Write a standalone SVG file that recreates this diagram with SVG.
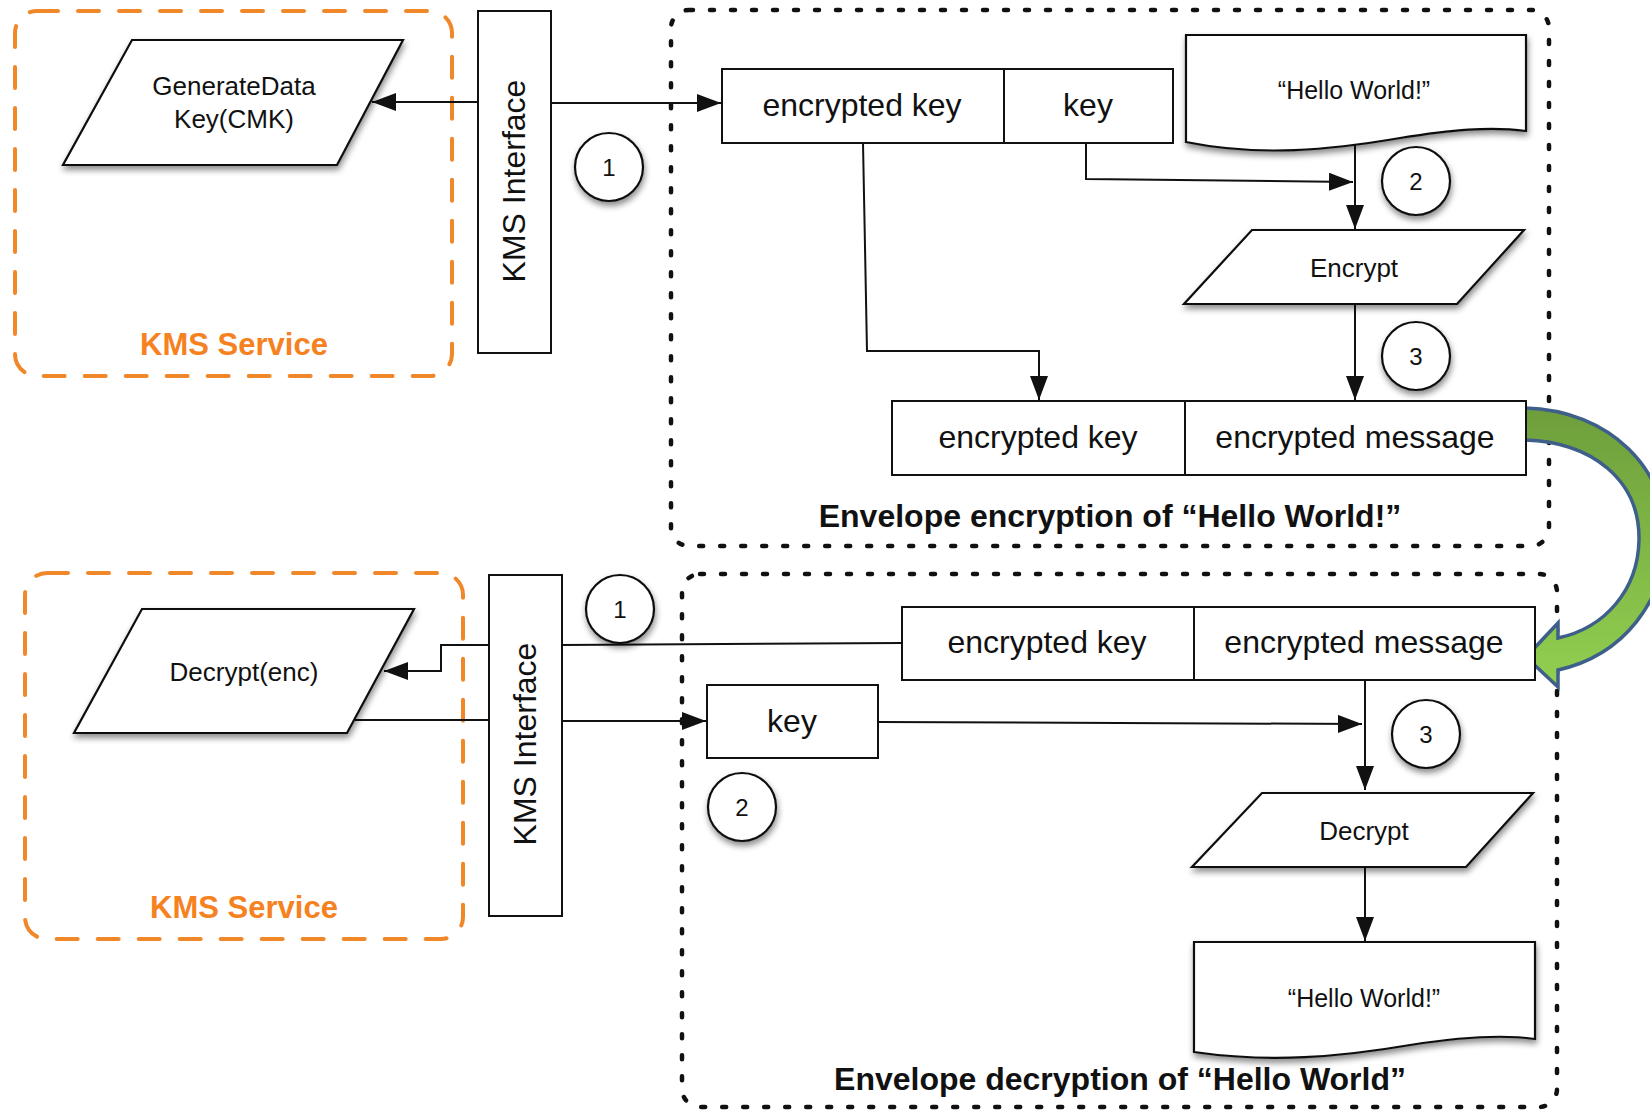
<svg xmlns="http://www.w3.org/2000/svg" width="1650" height="1111" viewBox="0 0 1650 1111">
<defs>
<style>
.t{font-family:"Liberation Sans",Arial,sans-serif;fill:#111;text-anchor:middle}
.box{fill:#fff;stroke:#111;stroke-width:2}
.shape{fill:#fff;stroke:#111;stroke-width:2.2}
.ln{fill:none;stroke:#111;stroke-width:2}
.orange{fill:none;stroke:#F0882A;stroke-width:4;stroke-dasharray:21 20;stroke-linecap:round}
.dot{fill:none;stroke:#111;stroke-width:4.5;stroke-dasharray:4 17;stroke-linecap:round}
.ks{font-family:"Liberation Sans",Arial,sans-serif;font-weight:bold;fill:#F5821F;text-anchor:middle;font-size:31px}
.cap{font-family:"Liberation Sans",Arial,sans-serif;font-weight:bold;fill:#111;text-anchor:middle;font-size:32px}
</style>
<marker id="ah" markerUnits="userSpaceOnUse" markerWidth="26" markerHeight="20" refX="24" refY="9" orient="auto">
<path d="M0,0 L24,9 L0,18 z" fill="#111"/>
</marker>
<filter id="sh" x="-10%" y="-10%" width="125%" height="140%">
<feDropShadow dx="1" dy="4" stdDeviation="3" flood-color="#000" flood-opacity="0.45"/>
</filter>
<linearGradient id="gg" x1="0" y1="408" x2="0" y2="690" gradientUnits="userSpaceOnUse">
<stop offset="0" stop-color="#6E9E3C"/>
<stop offset="1" stop-color="#92D050"/>
</linearGradient>
</defs>
<rect width="1650" height="1111" fill="#fff"/>

<g id="kms-service-top">
<rect class="orange" x="15" y="11" width="437" height="365" rx="22"/>
<text class="ks" x="234" y="355">KMS Service</text>
</g>
<g id="kms-service-bottom">
<rect class="orange" x="25" y="573" width="438" height="366" rx="22"/>
<text class="ks" x="244" y="918">KMS Service</text>
</g>
<g id="enc-envelope">
<rect class="dot" x="671" y="10" width="878" height="536" rx="18"/>
<text class="cap" x="1110" y="527">Envelope encryption of “Hello World!”</text>
</g>
<g id="dec-envelope">
<rect class="dot" x="682" y="574" width="875" height="533" rx="18"/>
<text class="cap" x="1120" y="1090">Envelope decryption of “Hello World”</text>
</g>

<g id="connectors">
<path class="ln" d="M478,102 L372,102" marker-end="url(#ah)"/>
<path class="ln" d="M551,103 L721,103" marker-end="url(#ah)"/>
<path class="ln" d="M1086,143 L1086,179 L1353,182" marker-end="url(#ah)"/>
<path class="ln" d="M1355,140 L1355,229" marker-end="url(#ah)"/>
<path class="ln" d="M1355,304 L1355,400" marker-end="url(#ah)"/>
<path class="ln" d="M863,143 L867,351 L1039,351 L1039,400" marker-end="url(#ah)"/>
<path class="ln" d="M902,643 L562,645"/>
<path class="ln" d="M489,645 L441,645 L441,671 L384,671" marker-end="url(#ah)"/>
<path class="ln" d="M355,720 L489,720"/>
<path class="ln" d="M562,721 L706,721" marker-end="url(#ah)"/>
<path class="ln" d="M878,722 L1362,724" marker-end="url(#ah)"/>
<path class="ln" d="M1365,680 L1365,790" marker-end="url(#ah)"/>
<path class="ln" d="M1365,867 L1365,941" marker-end="url(#ah)"/>
<path d="M1525,408 C1610,410 1668,470 1666,540 C1664,600 1625,655 1558,670 L1558,687 L1526,657 L1558,623 L1558,638 C1605,628 1638,590 1639,540 C1640,480 1592,442 1525,440 Z" fill="url(#gg)" stroke="#3D5F8A" stroke-width="3.5" stroke-linejoin="miter"/>
</g>

<g id="generate-data-key">
<path class="shape" filter="url(#sh)" d="M132,40 L403,40 L337,165 L63,165 Z"/>
<text class="t" x="234" y="95" font-size="26">GenerateData</text>
<text class="t" x="234" y="128" font-size="26">Key(CMK)</text>
</g>
<g id="kms-interface-top">
<rect class="box" x="478" y="11" width="73" height="342"/>
<text class="t" font-size="32" transform="translate(525,181) rotate(-90)">KMS Interface</text>
</g>
<g id="step1-top">
<circle class="shape" filter="url(#sh)" cx="609" cy="167" r="34"/>
<text class="t" x="609" y="176" font-size="24">1</text>
</g>
<g id="enc-key-top">
<rect class="box" x="722" y="69" width="282" height="74"/>
<text class="t" x="862" y="116" font-size="32">encrypted key</text>
</g>
<g id="key-top">
<rect class="box" x="1004" y="69" width="169" height="74"/>
<text class="t" x="1088" y="116" font-size="32">key</text>
</g>
<g id="hello-top">
<path class="shape" filter="url(#sh)" d="M1186,35 H1526 V131 C1490,126 1450,130 1400,138 C1330,150 1260,157 1186,142 Z"/>
<text class="t" x="1354" y="99" font-size="25">“Hello World!”</text>
</g>
<g id="step2-top">
<circle class="shape" filter="url(#sh)" cx="1416" cy="181" r="34"/>
<text class="t" x="1416" y="190" font-size="24">2</text>
</g>
<g id="encrypt">
<path class="shape" filter="url(#sh)" d="M1252,230 L1524,230 L1457,304 L1184,304 Z"/>
<text class="t" x="1354" y="277" font-size="26">Encrypt</text>
</g>
<g id="step3-top">
<circle class="shape" filter="url(#sh)" cx="1416" cy="356" r="34"/>
<text class="t" x="1416" y="365" font-size="24">3</text>
</g>
<g id="enc-key-out">
<rect class="box" x="892" y="401" width="293" height="74"/>
<text class="t" x="1038" y="448" font-size="32">encrypted key</text>
</g>
<g id="enc-msg-out">
<rect class="box" x="1185" y="401" width="341" height="74"/>
<text class="t" x="1355" y="448" font-size="32">encrypted message</text>
</g>

<g id="decrypt-enc">
<path class="shape" filter="url(#sh)" d="M142,609 L414,609 L347,733 L74,733 Z"/>
<text class="t" x="244" y="681" font-size="26">Decrypt(enc)</text>
</g>
<g id="kms-interface-bottom">
<rect class="box" x="489" y="575" width="73" height="341"/>
<text class="t" font-size="32" transform="translate(536,744) rotate(-90)">KMS Interface</text>
</g>
<g id="step1-bottom">
<circle class="shape" filter="url(#sh)" cx="620" cy="609" r="34"/>
<text class="t" x="620" y="618" font-size="24">1</text>
</g>
<g id="enc-key-in">
<rect class="box" x="902" y="607" width="292" height="73"/>
<text class="t" x="1047" y="653" font-size="32">encrypted key</text>
</g>
<g id="enc-msg-in">
<rect class="box" x="1194" y="607" width="341" height="73"/>
<text class="t" x="1364" y="653" font-size="32">encrypted message</text>
</g>
<g id="key-bottom">
<rect class="box" x="707" y="685" width="171" height="73"/>
<text class="t" x="792" y="732" font-size="32">key</text>
</g>
<g id="step2-bottom">
<circle class="shape" filter="url(#sh)" cx="742" cy="807" r="34"/>
<text class="t" x="742" y="816" font-size="24">2</text>
</g>
<g id="step3-bottom">
<circle class="shape" filter="url(#sh)" cx="1426" cy="734" r="34"/>
<text class="t" x="1426" y="743" font-size="24">3</text>
</g>
<g id="decrypt">
<path class="shape" filter="url(#sh)" d="M1262,793 L1533,793 L1466,867 L1192,867 Z"/>
<text class="t" x="1364" y="840" font-size="26">Decrypt</text>
</g>
<g id="hello-bottom">
<path class="shape" filter="url(#sh)" d="M1194,942 H1535 V1039 C1500,1034 1460,1037 1410,1045 C1340,1057 1270,1063 1194,1052 Z"/>
<text class="t" x="1364" y="1007" font-size="25">“Hello World!”</text>
</g>
</svg>
